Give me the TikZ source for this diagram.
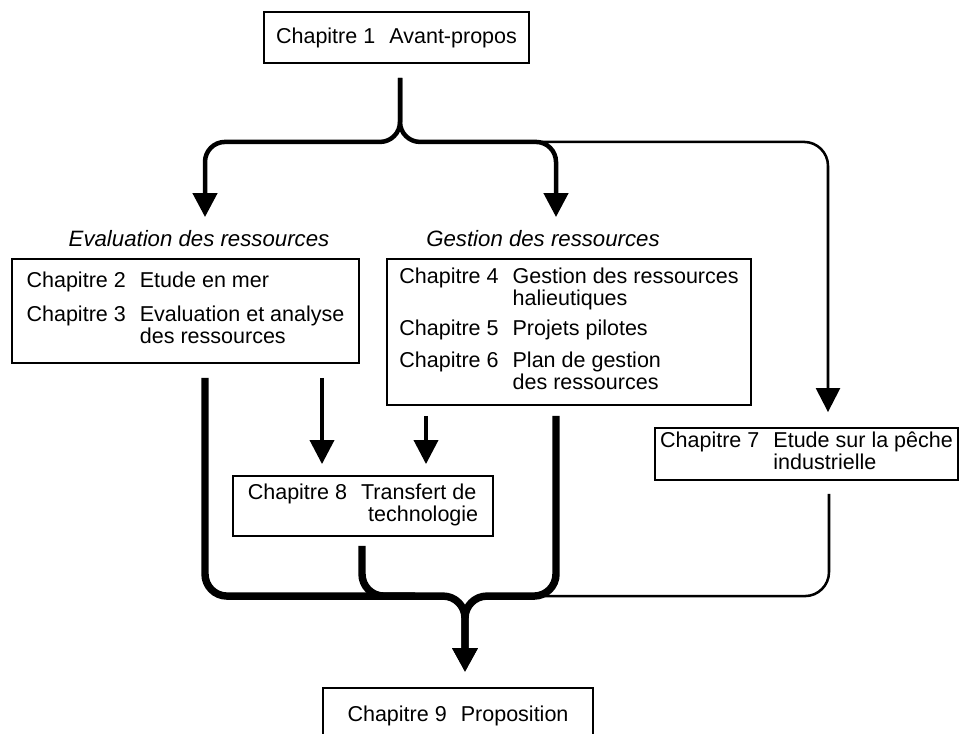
\documentclass[tikz,border=0pt]{standalone}
\usepackage{fontspec}
\setmainfont{Liberation Sans}
\usetikzlibrary{calc,arrows.meta}

\begin{document}
\begin{tikzpicture}[x=0.025cm,y=-0.025cm,
  chap/.style={draw,line width=1.3pt,rectangle,inner sep=0pt,font=\fontsize{15.3}{15.6}\selectfont},
  part/.style={anchor=base,font=\fontsize{15.8}{16}\selectfont\itshape},
  arr/.style={-{Triangle[width=0.6cm,length=0.6cm]}},
  heavy/.style={line width=5.3pt,rounded corners=0.55cm},
  brace/.style={line width=3.2pt,rounded corners=0.5cm},
  mid/.style={line width=2.6pt},
  fine/.style={line width=1.8pt,rounded corners=0.6cm}]
\clip (0,0) rectangle (960,734);

\node[chap,minimum width=6.625cm,minimum height=1.275cm] (c1) at (396.5,37.5) {Chapitre 1\hspace{10pt}Avant-propos};

\node[part] (ev) at (199,247) {Evaluation des ressources};
\node[part] (ge) at (543,247) {Gestion des ressources};

\node[chap,minimum width=8.675cm,minimum height=2.6cm] (c2) at (185.5,311) {\begin{tabular}{@{}l@{\hspace{10pt}}l@{}}
Chapitre 2 & Etude en mer\\[8pt]
Chapitre 3 & Evaluation et analyse\\
 & des ressources
\end{tabular}};

\node[chap,minimum width=9.1cm,minimum height=3.65cm] (c4) at (569,332) {\begin{tabular}{@{}l@{\hspace{10pt}}l@{}}
Chapitre 4 & Gestion des ressources\\
 & halieutiques\\[6pt]
Chapitre 5 & Projets pilotes\\[7pt]
Chapitre 6 & Plan de gestion\\
 & des ressources
\end{tabular}};

\node[chap,minimum width=7.575cm,minimum height=1.3cm] (c7) at (806.5,454) {\begin{tabular}{@{}l@{\hspace{10pt}}l@{}}
Chapitre 7 & Etude sur la pêche\\
 & industrielle
\end{tabular}};

\node[chap,minimum width=6.5cm,minimum height=1.5cm] (c8) at (363,506) {\begin{tabular}{@{}l@{\hspace{10pt}}l@{}}
Chapitre 8 & Transfert de\\
 & \hspace{5pt}technologie
\end{tabular}};

\node[chap,minimum width=6.75cm,minimum height=1.4cm] (c9) at (458,716) {Chapitre 9\hspace{10pt}Proposition};

\coordinate (Bt) at ($(c1.south)+(3.5,14)$);
\coordinate (Bh) at ($(Bt)+(0,64)$);
\coordinate (Bl) at ($(c2.north)+(19.5,-41)$);
\coordinate (Br) at ($(c4.north)+(-13,-41)$);
\coordinate (Ct) at ($(c7.north)+(21.5,-15)$);

\coordinate (E1) at ($(c8.north)+(-41,-11)$);
\coordinate (E2) at ($(c8.north)+(63,-11)$);

\coordinate (Mt) at ($(c9.north)+(7,-15)$);
\coordinate (Mh) at ($(Mt)+(0,-76)$);
\coordinate (L2) at ($(c2.south)+(19.5,14)$);
\coordinate (L4) at ($(c4.south)+(-13,10)$);
\coordinate (L8) at ($(c8.south)+(-1,9)$);
\coordinate (L7) at ($(c7.south)+(22.5,13)$);

\draw[fine,arr] ($(Br |- Bh)+(-14,0)$) -| (Ct);
\draw[brace,arr] (Bt) -- (Bh) -| (Bl);
\draw[brace,arr] (Bt) -- (Bh) -| (Br);

\draw[mid,arr,shorten <=0.35cm] (E1 |- c2.south) -- (E1);
\draw[mid,arr,shorten <=0.25cm] (E2 |- c4.south) -- (E2);

\draw[fine] (L7) |- ($(Mh)+(80,0)$);
\draw[heavy] (L8) |- ($(Mh)+(-50,0)$);
\draw[heavy,arr] (L2) |- (Mh) -- (Mt);
\draw[heavy,arr] (L4) |- (Mh) -- (Mt);

%\draw (c1) -- (c9);

\end{tikzpicture}
\end{document}
